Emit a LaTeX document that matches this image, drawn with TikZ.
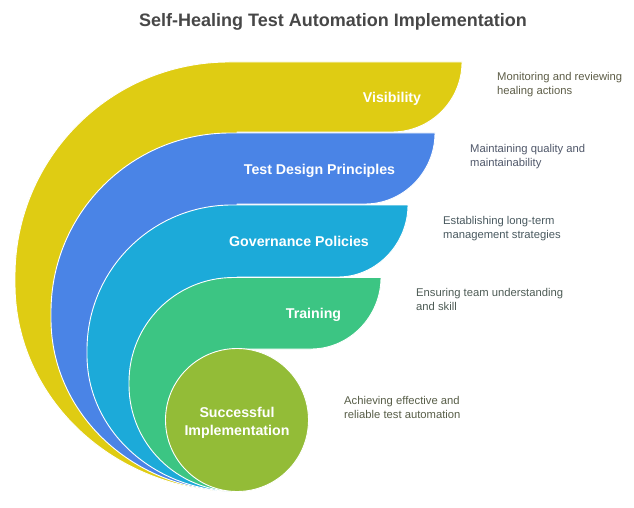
\documentclass[tikz,border=0pt]{standalone}
\usepackage{fontspec}
\setmainfont{Liberation Sans}
\definecolor{cyel}{HTML}{DFCC13}
\definecolor{cblu}{HTML}{4A84E6}
\definecolor{ctea}{HTML}{1CAAD9}
\definecolor{cgre}{HTML}{3CC583}
\definecolor{clim}{HTML}{93BC37}
\definecolor{tyel}{HTML}{5E5E48}
\definecolor{tblu}{HTML}{50586A}
\definecolor{ttea}{HTML}{4A5A60}
\definecolor{tgre}{HTML}{4E5C56}
\definecolor{tlim}{HTML}{585E48}
\tikzset{
  bandshape/.style={draw=white,line width=0.9pt,line join=round},
  headlabel/.style={text=white,font=\bfseries\fontsize{14.2}{18}\selectfont,align=center,inner sep=0pt},
  desc/.style={anchor=north west,align=left,inner sep=0pt,font=\fontsize{11.25}{13.5}\selectfont},
  titlelabel/.style={text=black!72,font=\bfseries\fontsize{18}{20}\selectfont,inner sep=0pt}
}
% #1 colour, #2 top y, #3 bottom y, #4 left x, #5 right x,
% #6 x where the top edge starts to curve, #7 y where the upper arc ends, #8 y where the lower arc starts
\newcommand{\bandpath}[8]{
  \path[bandshape,fill=#1]
    (#5,#2) -- (#6,#2)
    .. controls ({#6-(#6-#4)*0.5523},#2) and (#4,{#7-(#7-#2)*0.5523}) .. (#4,#7)
    -- (#4,#8)
    .. controls (#4,{#8+(491.5-#8)*0.5523}) and ({237-(237-#4)*0.5523},491.5) .. (237,491.5)
    -- (237,#3) -- ({#5-70},#3)
    .. controls ({#5-70+38.7},#3) and (#5,{#2+38.7}) .. (#5,#2) -- cycle;
}
\begin{document}
\begin{tikzpicture}[x=1pt,y=-1pt]
\useasboundingbox (0,0) rectangle (634,508);
\fill[white] (0,0) rectangle (634,508);
\node[titlelabel] (title) at (333,22) {Self-Healing Test Automation Implementation};
\bandpath{cyel}{62}{132}{15}{462}{229}{276}{284}
\bandpath{cblu}{133}{204}{51}{435}{230}{312}{319}
\bandpath{ctea}{205}{277}{87}{408}{232}{350}{355}
\bandpath{cgre}{277.5}{349}{129}{381}{233.5}{382}{385}
\draw[bandshape,fill=clim] (237,420) circle[radius=71.5];
\node[headlabel] (visibility) at (392,99) {Visibility};
\node[headlabel] (design) at (319.5,171) {Test Design Principles};
\node[headlabel] (governance) at (299,241) {Governance Policies};
\node[headlabel] (training) at (313.5,315) {Training};
\node[headlabel] (success) at (237,423) {Successful\\Implementation};
\node[desc,text=tyel] (d1) at (497,72.2) {Monitoring and reviewing\\healing actions};
\node[desc,text=tblu] (d2) at (470,144.2) {Maintaining quality and\\maintainability};
\node[desc,text=ttea] (d3) at (443,216.2) {Establishing long-term\\management strategies};
\node[desc,text=tgre] (d4) at (416,288.2) {Ensuring team understanding\\and skill};
\node[desc,text=tlim] (d5) at (344,396.2) {Achieving effective and\\reliable test automation};
\end{tikzpicture}
\end{document}
